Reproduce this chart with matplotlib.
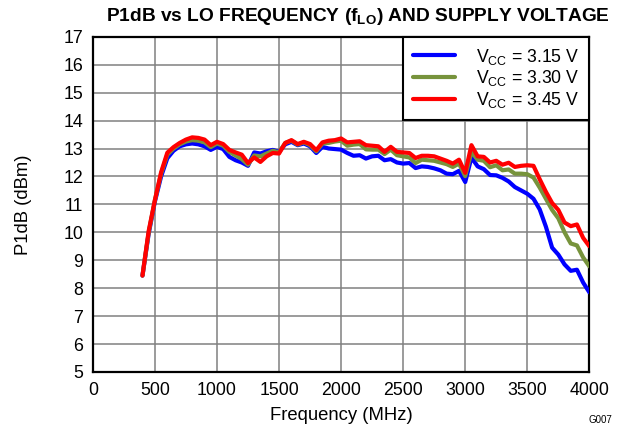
import matplotlib
matplotlib.use("Agg")
import matplotlib.pyplot as plt

plt.rcParams['font.family'] = ['Liberation Sans', 'DejaVu Sans']

freq_mhz = list(range(400, 4001, 50))

p1db_315 = [8.45, 9.95, 11.1, 12.0, 12.65, 12.92, 13.08, 13.15, 13.18, 13.15,
            13.08, 12.95, 13.06, 12.98, 12.7, 12.58, 12.5, 12.38, 12.86, 12.82,
            12.9, 12.95, 12.88, 13.15, 13.24, 13.12, 13.18, 13.08, 12.84, 13.06,
            13.0, 12.98, 12.96, 12.84, 12.74, 12.76, 12.64, 12.72, 12.74, 12.58,
            12.62, 12.5, 12.46, 12.48, 12.3, 12.36, 12.34, 12.29, 12.22, 12.1,
            12.08, 12.2, 11.8, 12.68, 12.36, 12.26, 12.05, 12.04, 11.95, 11.82,
            11.62, 11.5, 11.38, 11.2, 10.82, 10.2, 9.45, 9.2, 8.85, 8.62,
            8.66, 8.2, 7.85]

p1db_330 = [8.45, 10.0, 11.15, 12.1, 12.78, 13.0, 13.15, 13.25, 13.3, 13.28,
            13.22, 13.05, 13.18, 13.1, 12.88, 12.75, 12.62, 12.42, 12.75, 12.72,
            12.82, 12.92, 12.86, 13.2, 13.28, 13.14, 13.22, 13.12, 12.9, 13.18,
            13.2, 13.25, 13.28, 13.1, 13.14, 13.16, 12.97, 12.96, 12.96, 12.8,
            12.96, 12.76, 12.72, 12.68, 12.48, 12.6, 12.58, 12.56, 12.5, 12.44,
            12.34, 12.46, 12.01, 12.88, 12.6, 12.56, 12.33, 12.4, 12.22, 12.25,
            12.1, 12.1, 12.08, 11.96, 11.6, 11.2, 10.8, 10.5, 10.0, 9.6,
            9.53, 9.1, 8.78]

p1db_345 = [8.45, 10.05, 11.15, 12.15, 12.85, 13.05, 13.2, 13.32, 13.4, 13.38,
            13.32, 13.12, 13.24, 13.16, 12.95, 12.86, 12.78, 12.48, 12.68, 12.52,
            12.72, 12.84, 12.82, 13.2, 13.3, 13.16, 13.24, 13.16, 12.94, 13.22,
            13.28, 13.3, 13.36, 13.22, 13.24, 13.26, 13.12, 13.1, 13.08, 12.88,
            13.06, 12.88, 12.86, 12.84, 12.66, 12.74, 12.74, 12.72, 12.64, 12.56,
            12.46, 12.6, 12.13, 13.12, 12.72, 12.7, 12.5, 12.56, 12.42, 12.49,
            12.34, 12.38, 12.4, 12.38, 11.9, 11.45, 11.05, 10.8, 10.35, 10.22,
            10.28, 9.8, 9.5]

series_labels = [r"$\mathregular{V_{CC}}$ = 3.15 V",
                 r"$\mathregular{V_{CC}}$ = 3.30 V",
                 r"$\mathregular{V_{CC}}$ = 3.45 V"]
series_colors = ["#0000FF", "#77933C", "#FF0000"]

x_ticks = list(range(0, 4001, 500))
y_ticks = list(range(5, 18, 1))

fig = plt.figure(figsize=(6.23, 4.28), dpi=100)
ax = fig.add_axes([0.149, 0.131, 0.797, 0.783])

for vals, lab, col in zip([p1db_315, p1db_330, p1db_345], series_labels, series_colors):
    ax.plot(freq_mhz, vals, color=col, lw=3.0, label=lab, solid_capstyle='round',
            solid_joinstyle='round', zorder=3)

ax.set_xlim(0, 4000)
ax.set_ylim(5, 17)
ax.set_xticks(x_ticks)
ax.set_yticks(y_ticks)
ax.grid(True, color="#808080", lw=1.1, zorder=0)
ax.tick_params(length=0, labelsize=12.8)
ax.tick_params(axis='x', pad=7)
ax.tick_params(axis='y', pad=7)
for s in ax.spines.values():
    s.set_linewidth(1.6)
    s.set_color("black")

ax.set_xlabel("Frequency (MHz)", fontsize=13.3)
ax.set_ylabel("P1dB (dBm)", fontsize=13.3)
ax.xaxis.set_label_coords(0.5, -0.105)
ax.yaxis.set_label_coords(-0.123, 0.5)

fig.text(0.575, 0.962, r"P1dB vs LO FREQUENCY ($\mathregular{f_{LO}}$) AND SUPPLY VOLTAGE",
         ha="center", va="center", fontsize=13.8, fontweight="bold")

leg = ax.legend(loc="upper right", fontsize=12.7, frameon=True, fancybox=False,
                borderaxespad=0.0, handlelength=2.4, labelspacing=0.1,
                borderpad=0.55, handletextpad=1.2)
leg.get_frame().set_edgecolor("black")
leg.get_frame().set_linewidth(1.5)
leg.get_frame().set_alpha(1)

fig.text(0.982, 0.008, "G007", ha="right", va="bottom", fontsize=7)

fig.savefig("out.png", dpi=100)
